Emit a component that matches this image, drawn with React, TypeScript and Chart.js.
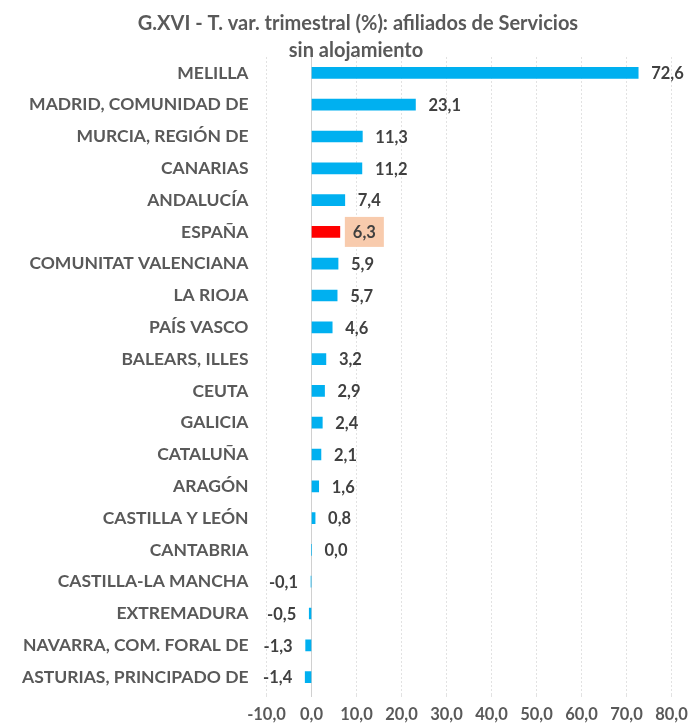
import React, { useEffect, useRef } from "react";
import { Chart, registerables } from "chart.js";

Chart.register(...registerables);

const titleLines = ["G.XVI - T. var. trimestral (%): afiliados de Servicios", "sin alojamiento"];

const categories = [
  "MELILLA",
  "MADRID, COMUNIDAD DE",
  "MURCIA, REGIÓN DE",
  "CANARIAS",
  "ANDALUCÍA",
  "ESPAÑA",
  "COMUNITAT VALENCIANA",
  "LA RIOJA",
  "PAÍS VASCO",
  "BALEARS, ILLES",
  "CEUTA",
  "GALICIA",
  "CATALUÑA",
  "ARAGÓN",
  "CASTILLA Y LEÓN",
  "CANTABRIA",
  "CASTILLA-LA MANCHA",
  "EXTREMADURA",
  "NAVARRA, COM. FORAL DE",
  "ASTURIAS, PRINCIPADO DE",
];

const values = [72.6, 23.1, 11.3, 11.2, 7.4, 6.3, 5.9, 5.7, 4.6, 3.2, 2.9, 2.4, 2.1, 1.6, 0.8, 0.0, -0.1, -0.5, -1.3, -1.4];

const highlightCategory = "ESPAÑA";

const xMin = -10;
const xMax = 80;
const xStep = 10;

const fmt = (v: number) => v.toFixed(1).replace(".", ",");

const FONT = "Lato, 'Open Sans', sans-serif";

const titlePlugin = {
  id: "customTitle",
  afterDraw(chart: any) {
    const ctx = chart.ctx;
    ctx.save();
    ctx.fillStyle = "#595959";
    ctx.font = `bold 20px ${FONT}`;
    ctx.textAlign = "center";
    ctx.textBaseline = "alphabetic";
    ctx.fillText(titleLines[0], 358, 30);
    ctx.fillText(titleLines[1], 356, 57);
    ctx.restore();
  },
};

const labelPlugin = {
  id: "barLabels",
  afterDatasetsDraw(chart: any) {
    const ctx = chart.ctx;
    const meta = chart.getDatasetMeta(0);
    ctx.save();
    ctx.font = `bold 16.5px ${FONT}`;
    ctx.textBaseline = "middle";
    meta.data.forEach((bar: any, i: number) => {
      const v = values[i];
      const text = fmt(v);
      const w = ctx.measureText(text).width;
      const gap = 13;
      let left: number;
      if (v >= 0) {
        left = bar.x + gap;
      } else {
        left = bar.x - gap - w;
      }
      if (categories[i] === highlightCategory) {
        ctx.fillStyle = "#F8CBAD";
        ctx.fillRect(left - 8, bar.y - 15, w + 16, 30);
      }
      ctx.fillStyle = "#404040";
      ctx.textAlign = "left";
      ctx.fillText(text, left, bar.y + 1);
    });
    ctx.restore();
  },
};

export default function App() {
  const canvasRef = useRef<HTMLCanvasElement | null>(null);

  useEffect(() => {
    if (!canvasRef.current) return;
    const chart = new Chart(canvasRef.current, {
      type: "bar",
      data: {
        labels: categories,
        datasets: [
          {
            data: values,
            backgroundColor: categories.map((c) => (c === highlightCategory ? "#FF0000" : "#00B0F0")),
            barThickness: 11,
            borderWidth: 0,
          },
        ],
      },
      options: {
        indexAxis: "y",
        animation: false,
        responsive: false,
        maintainAspectRatio: false,
        layout: { padding: { top: 57, right: 25.5, left: 0, bottom: 0 } },
        plugins: {
          legend: { display: false },
          title: { display: false },
          tooltip: { enabled: false },
        },
        scales: {
          x: {
            type: "linear",
            min: xMin,
            max: xMax,
            ticks: {
              stepSize: xStep,
              color: "#595959",
              font: { family: FONT, size: 16.5, weight: "bold" },
              padding: 8,
              maxRotation: 0,
              minRotation: 0,
              autoSkip: false,
              callback: (v: any) => fmt(Number(v)),
            },
            grid: {
              color: (c: any) => (c.tick && c.tick.value === 0 ? "#d0d0d0" : "#e2e2e2"),
              lineWidth: 1,
              tickLength: 4,
              drawTicks: true,
            },
            border: {
              display: false,
              dash: (c: any) => (c.tick && c.tick.value === 0 ? [] : [2, 2]),
            },
            afterFit: (scale: any) => {
              scale.height = 33;
            },
          },
          y: {
            ticks: {
              color: "#595959",
              font: { family: FONT, size: 17.5, weight: "bold" },
              padding: 18,
              autoSkip: false,
            },
            grid: { display: false, drawTicks: false },
            border: { display: false },
            afterFit: (scale: any) => {
              scale.width = 266.5;
            },
          },
        },
      },
      plugins: [titlePlugin, labelPlugin],
    });
    return () => chart.destroy();
  }, []);

  return (
    <div style={{ position: "absolute", left: 0, top: 0, width: 697, height: 726, background: "#fff" }}>
      <canvas ref={canvasRef} width={697} height={726} style={{ width: 697, height: 726, display: "block" }} />
    </div>
  );
}
